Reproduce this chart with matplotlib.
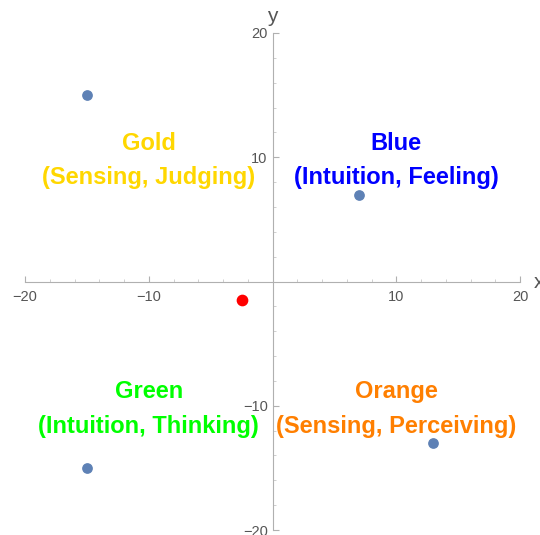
import matplotlib
matplotlib.use("Agg")
import matplotlib.pyplot as plt
import numpy as np

plt.rcParams['font.family'] = ['Liberation Sans', 'DejaVu Sans']

# points
px = [-15, 7, 13, -15]
py = [15, 7, -13, -15]
red_x = [-2.5]
red_y = [-1.5]

# quadrant labels
lab_x = [-10, 10, -10, 10]
lab_y = [10, 10, -10, -10]
lab_txt = ["Gold\n(Sensing, Judging)", "Blue\n(Intuition, Feeling)",
           "Green\n(Intuition, Thinking)", "Orange\n(Sensing, Perceiving)"]
lab_col = ["#FFD700", "#0000FF", "#00FF00", "#FF7F00"]

major = [-20, -10, 10, 20]
minor = np.arange(-20, 21, 2)

fig = plt.figure(figsize=(5.4, 5.35), dpi=100)
ax = fig.add_axes([25/540, 5/535, 495/540, 497/535])
ax.set_xlim(-20, 20)
ax.set_ylim(-20, 20)

for s in ['top', 'right']:
    ax.spines[s].set_visible(False)
ax.spines['left'].set_position(('data', 0))
ax.spines['bottom'].set_position(('data', 0))
for s in ['left', 'bottom']:
    ax.spines[s].set_color('#b0b0b0')
    ax.spines[s].set_linewidth(0.8)

ax.set_xticks(major)
ax.set_yticks(major)
ax.set_xticks(minor, minor=True)
ax.set_yticks(minor, minor=True)
ax.tick_params(which='major', direction='in', length=4, width=0.8,
               color='#b0b0b0', labelcolor='#555555', labelsize=10.5)
ax.tick_params(axis='x', which='major', pad=6)
ax.tick_params(which='minor', direction='in', length=2, width=0.6,
               color='#c8c8c8')
ax.set_xticklabels(['\u221220', '\u221210', '10', '20'])
ax.set_yticklabels(['\u221220', '\u221210', '10', '20'])

ax.scatter(px, py, s=45, color='#5E81B5', zorder=3, clip_on=False)
ax.scatter(red_x, red_y, s=55, color='#FF0000', zorder=3, clip_on=False)

for x, y, t, c in zip(lab_x, lab_y, lab_txt, lab_col):
    ax.text(x, y - 0.25, t, color=c, fontsize=17, fontweight='bold',
            ha='center', va='center', linespacing=1.65)

ax.text(21.1, -0.1, 'x', fontsize=15, color='#555555', ha='left', va='center',
        clip_on=False)
ax.text(0, 20.6, 'y', fontsize=15, color='#555555', ha='center', va='bottom',
        clip_on=False)

fig.savefig('out.png', dpi=100)
